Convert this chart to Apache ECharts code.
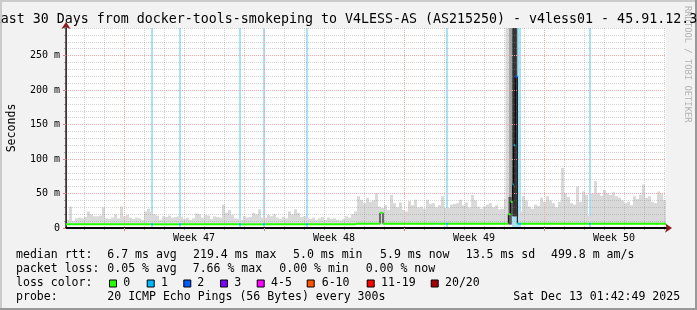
<!DOCTYPE html>
<html><head><meta charset="utf-8">
<script src="https://cdn.jsdelivr.net/npm/echarts@6/dist/echarts.min.js"></script>
<style>html,body{margin:0;padding:0;background:#f2f2f2;}#c{width:697px;height:310px;}</style>
</head><body><div id="c"></div>
<script>
// ---------------- data ----------------
const titleText = 'Last 30 Days from docker-tools-smokeping to V4LESS-AS (AS215250) - v4less01 - 45.91.12.3';
const yMajorTicks = [0, 50, 100, 150, 200, 250];
const yMinorTicks = [0,10,20,30,40,50,60,70,80,90,100,110,120,130,140,150,160,170,180,190,200,210,220,230,240,250,260,270,280,290];
const xMinorDays = [0.9,1.9,2.9,3.9,4.9,5.9,6.9,7.9,8.9,9.9,10.9,11.9,12.9,13.9,14.9,15.9,16.9,17.9,18.9,19.9,20.9,21.9,22.9,23.9,24.9,25.9,26.9,27.9,28.9,29.9];
const xMajorDays = [2.9, 9.9, 16.9, 23.9];
const weekLabelDays = [6.4, 13.4, 20.4, 27.4];
const weekLabels = ['Week 47', 'Week 48', 'Week 49', 'Week 50'];
const sampleDays = 0.15;           // one smoke sample per 3.6 h
const smokeLow = 5;                // fastest ping (m)
// highest ping per sample (m); null = drawn by spikeSmoke
const smokeTop = [
 12,31,10,14,15,14,16,24,20,17,
 17,18,30,14,13,15,20,14,31,17,
 19,15,13,15,14,12,24,28,24,20,
 18,12,17,16,18,15,16,17,16,13,
 15,12,14,21,20,15,19,18,13,17,
 16,15,34,22,26,19,14,13,12,17,
 15,16,22,20,27,15,15,19,17,20,
 15,13,16,14,24,20,27,22,16,17,
 15,13,15,12,14,16,12,15,13,14,
 12,11,13,17,15,20,24,46,41,36,
 44,38,40,51,31,29,33,26,48,36,
 30,37,26,24,39,33,41,30,31,28,
 41,35,36,30,33,46,29,29,34,35,
 36,41,33,37,30,48,40,31,28,31,
 34,36,30,33,27,28,42,null,null,null,
 null,24,46,40,31,28,34,32,44,38,
 46,40,36,30,38,87,51,45,36,34,
 60,38,53,48,18,50,68,51,47,55,
 51,48,52,46,44,40,36,38,33,46,
 42,48,63,44,46,38,36,53,50,41
];
// [startDay, endDay, low m, high m, density level]
const spikeSmoke = [
 [21.975, 22.15, 5, 290, 0],
 [22.15, 22.285, 5, 290, 1],
 [22.125, 22.285, 5, 45, 2],
 [22.285, 22.565, 17, 290, 2],
 [22.35, 22.515, 17, 290, 3]
];
// median rtt: [startDay, value m, loss class]
const medianSteps = [
 [0, 5.3, 0], [4.25, 5.3, 1], [4.35, 5.3, 0], [5.65, 5.3, 1], [5.75, 5.3, 0],
 [8.65, 5.3, 1], [8.75, 5.3, 0], [9.85, 5.3, 1], [9.95, 5.3, 0],
 [12.0, 5.3, 1], [12.1, 5.3, 0], [14.5, 6.2, 0], [15.7, 22, 0], [15.85, 6.2, 0],
 [19.0, 6.2, 1], [19.1, 6.2, 0], [22.115, 20, 0], [22.235, 38, 0],
 [22.335, 63, 1], [22.385, 120, 1], [22.465, 219.4, 2], [22.565, 6.2, 0],
 [22.6, 6.2, 1], [22.75, 6.2, 0], [26.15, 6.2, 1], [26.25, 6.2, 0]
];
const endDay = 30;
// packet loss background: [startDay, endDay, loss class]
const lossStripes = [
 [4.25,4.35,1],[5.65,5.75,1],[8.65,8.75,1],[9.85,9.95,1],[12.0,12.1,1],
 [19.0,19.1,1],[22.3,22.75,1],[26.15,26.25,1]
];
const lossColors = ['#26ff00','#00b8ff','#0059ff','#7e00ff','#ff00ff','#ff5500','#ff0000','#a10000'];
const lossBgColors = ['#c8ffc0','#a8e2f8','#a8c4ff','#d4b0ff','#ffb0ff','#ffc8b0','#ffb0b0','#e0a0a0'];
const lossLabels = ['0','1','2','3','4-5','6-10','11-19','20/20'];
const smokeShades = ['#d9d9d9','#a8a8a8','#555555','#333333'];
const statRows = [
 ['median rtt:', '6.7 ms avg', '219.4 ms max', '5.0 ms min', '5.9 ms now', '13.5 ms sd', '499.8 m am/s'],
 ['packet loss:', '0.05 % avg', '7.66 % max', '0.00 % min', '0.00 % now']
];
const probeText = '20 ICMP Echo Pings (56 Bytes) every 300s';
const dateText = 'Sat Dec 13 01:42:49 2025';
const watermark = 'RRDTOOL / TOBI OETIKER';

// ---------------- layout ----------------
const MONO = 'DejaVu Sans Mono';
const LEG_FS = 11.55;
const row1X = [16, 107.3, 193, 293, 380, 465.7, 551];
const row2X = [16, 107.3, 192.7, 279.3, 365.7];
const rowY = [255, 269, 283, 297];
const boxX = [109, 146.7, 183.3, 220, 256.7, 306.7, 366.7, 430.7];
const boxLabelX = [123.3, 161, 197.3, 234.3, 271, 321.7, 381, 445];

const chart = echarts.init(document.getElementById('c'), null, {renderer: 'canvas'});

function rectFor(api, x0, x1, lo, hi) {
  const a = api.coord([x0, hi]);
  const b = api.coord([x1, lo]);
  return {x: a[0], y: a[1], width: b[0] - a[0], height: b[1] - a[1]};
}

const smokeData = [];
smokeTop.forEach((v, i) => { if (v != null) smokeData.push([i * sampleDays, (i + 1) * sampleDays, smokeLow, v, 0]); });
spikeSmoke.forEach(d => smokeData.push(d));

const medianSegs = medianSteps.map((s, i) => [s[0], i + 1 < medianSteps.length ? medianSteps[i + 1][0] : endDay, s[1], s[2]]);
const medianJumps = [];
for (let i = 1; i < medianSteps.length; i++) {
  if (medianSteps[i][1] !== medianSteps[i - 1][1]) medianJumps.push([medianSteps[i][0], medianSteps[i - 1][1], medianSteps[i][1]]);
}

const graphics = [];
graphics.push({type:'rect', shape:{x:0,y:0,width:697,height:2}, style:{fill:'#cbcbcb'}, z:1});
graphics.push({type:'rect', shape:{x:0,y:0,width:2,height:310}, style:{fill:'#cbcbcb'}, z:1});
graphics.push({type:'rect', shape:{x:695,y:0,width:2,height:310}, style:{fill:'#999999'}, z:1});
graphics.push({type:'rect', shape:{x:0,y:308,width:697,height:2}, style:{fill:'#999999'}, z:1});
graphics.push({type:'text', x:687.5, y:6, rotation:-Math.PI/2, z:1,
  style:{text:watermark, fill:'#b4b4b4', font:'8.8px "DejaVu Sans Mono"', align:'left', verticalAlign:'middle'}});
statRows[0].forEach((t, i) => graphics.push({type:'text', x: row1X[i], y: rowY[0], style:{text:t, fill:'#000', font: LEG_FS + 'px "DejaVu Sans Mono"', verticalAlign:'middle'}}));
statRows[1].forEach((t, i) => graphics.push({type:'text', x: row2X[i], y: rowY[1], style:{text:t, fill:'#000', font: LEG_FS + 'px "DejaVu Sans Mono"', verticalAlign:'middle'}}));
graphics.push({type:'text', x:16, y:rowY[2], style:{text:'loss color:', fill:'#000', font: LEG_FS + 'px "DejaVu Sans Mono"', verticalAlign:'middle'}});
lossLabels.forEach((t, i) => {
  graphics.push({type:'rect', shape:{x: boxX[i] + 0.5, y: rowY[2] - 3, width: 7, height: 7}, style:{fill: lossColors[i], stroke:'#000', lineWidth:1}});
  graphics.push({type:'text', x: boxLabelX[i], y: rowY[2], style:{text:t, fill:'#000', font: LEG_FS + 'px "DejaVu Sans Mono"', verticalAlign:'middle'}});
});
graphics.push({type:'text', x:16, y:rowY[3], style:{text:'probe:', fill:'#000', font: LEG_FS + 'px "DejaVu Sans Mono"', verticalAlign:'middle'}});
graphics.push({type:'text', x:107.3, y:rowY[3], style:{text:probeText, fill:'#000', font: LEG_FS + 'px "DejaVu Sans Mono"', verticalAlign:'middle'}});
graphics.push({type:'text', x:513.3, y:rowY[3], style:{text:dateText, fill:'#000', font: LEG_FS + 'px "DejaVu Sans Mono"', verticalAlign:'middle'}});

function nearestLabel(v) {
  let best = 0;
  weekLabelDays.forEach((d, i) => { if (Math.abs(d - v) < Math.abs(weekLabelDays[best] - v)) best = i; });
  return weekLabels[best];
}

const MINOR_GRID = 'rgba(140,140,140,0.38)';
const MAJOR_GRID = '#f0a8a8';
const option = {
  animation: false,
  backgroundColor: '#f2f2f2',
  title: {text: titleText, left: -7.3, top: 13, padding: 0, z: 20,
    textStyle: {fontFamily: MONO, fontSize: 13.3, fontWeight: 'normal', color: '#000'}},
  grid: {left: 66, right: 31, top: 28, bottom: 82, show: true, backgroundColor: '#ffffff', borderWidth: 0,
    containLabel: false, outerBoundsMode: 'none'},
  xAxis: [
    {type: 'value', min: 0, max: endDay, position: 'bottom', z: 4,
     axisLine: {show: true, onZero: false, lineStyle: {color: '#000', width: 2}},
     axisTick: {show: true, customValues: xMajorDays, length: 3, lineStyle: {color: '#e08080'}},
     axisLabel: {customValues: weekLabelDays, formatter: v => nearestLabel(v), fontFamily: MONO, fontSize: 10, color: '#000', margin: 5},
     splitLine: {show: true, lineStyle: {color: MAJOR_GRID, type: [1, 1], width: 1}}},
    {type: 'value', min: 0, max: endDay, position: 'bottom', z: 3,
     axisLine: {show: true, onZero: false, symbol: ['none', 'arrow'], symbolSize: [7, 7], symbolOffset: [0, 6], lineStyle: {color: '#8b1a1a', width: 1}},
     axisTick: {show: true, customValues: xMinorDays, length: 2, lineStyle: {color: '#999'}},
     axisLabel: {show: false},
     splitLine: {show: true, lineStyle: {color: MINOR_GRID, type: [1, 1], width: 1}}}
  ],
  yAxis: [
    {type: 'value', min: 0, max: 290, position: 'left', z: 4,
     axisLine: {show: true, lineStyle: {color: '#333', width: 1.5}},
     axisTick: {show: true, customValues: yMajorTicks, length: 3, lineStyle: {color: '#e08080'}},
     axisLabel: {customValues: yMajorTicks, formatter: v => (v === 0 ? '0' : v + ' m'), fontFamily: MONO, fontSize: 10, color: '#000', margin: 6},
     splitLine: {show: true, lineStyle: {color: MAJOR_GRID, type: [1, 1], width: 1}},
     name: 'Seconds', nameLocation: 'middle', nameGap: 48, nameRotate: 90,
     nameTextStyle: {fontFamily: MONO, fontSize: 11.55, color: '#000'}},
    {type: 'value', min: 0, max: 290, position: 'left', z: 3,
     axisLine: {show: true, symbol: ['none', 'arrow'], symbolSize: [7, 7], symbolOffset: [0, 6], lineStyle: {color: '#8b1a1a', width: 1}},
     axisTick: {show: true, customValues: yMinorTicks, length: 2, lineStyle: {color: '#aaa'}},
     axisLabel: {show: false},
     splitLine: {show: true, lineStyle: {color: MINOR_GRID, type: [1, 1], width: 1}}}
  ],
  graphic: {elements: graphics},
  series: [
    {type: 'custom', name: 'loss', z: 1, clip: true, xAxisIndex: 0, yAxisIndex: 0,
     data: lossStripes,
     renderItem: (p, api) => ({type: 'rect', shape: rectFor(api, api.value(0), api.value(1), 0, 290), style: {fill: lossBgColors[api.value(2)]}})},
    {type: 'custom', name: 'smoke', z: 2, clip: true, xAxisIndex: 0, yAxisIndex: 0,
     data: smokeData,
     renderItem: (p, api) => ({type: 'rect', shape: rectFor(api, api.value(0), api.value(1), api.value(2), Math.min(api.value(3), 290)), style: {fill: smokeShades[api.value(4)]}})},
    {type: 'custom', name: 'jumps', z: 8, clip: true, xAxisIndex: 0, yAxisIndex: 0,
     data: medianJumps,
     renderItem: (p, api) => {
       const a = api.coord([api.value(0), api.value(1)]);
       const b = api.coord([api.value(0), api.value(2)]);
       return {type: 'line', shape: {x1: a[0], y1: a[1], x2: b[0], y2: b[1]}, style: {stroke: '#000', lineWidth: 1}};
     }},
    {type: 'custom', name: 'median', z: 9, clip: true, xAxisIndex: 0, yAxisIndex: 0,
     data: medianSegs,
     renderItem: (p, api) => {
       const a = api.coord([api.value(0), api.value(2)]);
       const b = api.coord([api.value(1), api.value(2)]);
       return {type: 'rect', shape: {x: a[0], y: a[1] - 1, width: b[0] - a[0], height: 2}, style: {fill: lossColors[api.value(3)]}};
     }}
  ]
};
chart.setOption(option);
</script>
</body></html>
